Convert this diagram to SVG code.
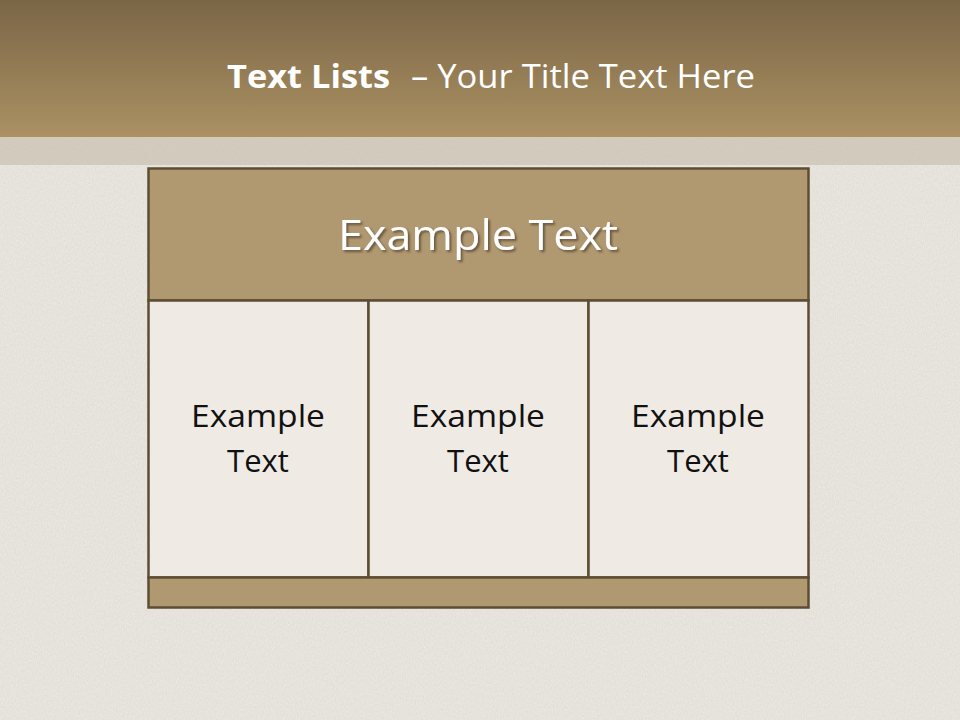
<svg xmlns="http://www.w3.org/2000/svg" width="960" height="720" viewBox="0 0 960 720">
<style>
.cell{fill:#efebe4;stroke:#5e4d33;stroke-width:2.5}
.tan{fill:#b09870;stroke:#5e4d33;stroke-width:2.5}
.ct{font-family:"Open Sans","Noto Sans",sans-serif;font-size:31px;fill:#111;text-anchor:middle}
.tt{font-family:"Open Sans","Noto Sans",sans-serif;font-size:33px;fill:#fff}
</style>
<defs>
<linearGradient id="hdr" x1="0" y1="0" x2="0" y2="1">
<stop offset="0" stop-color="#7a6546"/>
<stop offset="1" stop-color="#ab9163"/>
</linearGradient>
<filter id="noise" x="0" y="0" width="100%" height="100%">
<feTurbulence type="fractalNoise" baseFrequency="0.9 0.45" numOctaves="2" seed="3"/>
<feColorMatrix type="matrix" values="0 0 0 0 0.45 0 0 0 0 0.42 0 0 0 0 0.38 0 0 0 0.6 -0.1"/>
</filter>
<filter id="sh" x="-10%" y="-30%" width="120%" height="160%">
<feDropShadow dx="2" dy="2" stdDeviation="1.2" flood-color="#3a2e1c" flood-opacity="0.6"/>
</filter>
</defs>
<rect x="0" y="0" width="960" height="720" fill="#ebe8e2"/>
<rect x="0" y="0" width="960" height="720" filter="url(#noise)" opacity="0.45"/>
<rect x="0" y="137" width="960" height="28" fill="#c4baa9" opacity="0.6"/>
<rect x="0" y="0" width="960" height="137" fill="url(#hdr)"/>
<text class="tt" x="227" y="88" font-weight="bold" textLength="163" lengthAdjust="spacingAndGlyphs">Text Lists</text>
<text class="tt" x="411" y="88" textLength="344" lengthAdjust="spacingAndGlyphs">– Your Title Text Here</text>
<g id="header">
<rect class="tan" x="148.5" y="168.5" width="660" height="132"/>
<text x="478" y="250" font-family="Open Sans,Noto Sans,sans-serif" font-size="42" fill="#fff" text-anchor="middle" textLength="280" lengthAdjust="spacingAndGlyphs" filter="url(#sh)">Example Text</text>
</g>
<g id="cell1">
<rect class="cell" x="148.5" y="300.5" width="220" height="277"/>
<text class="ct" x="258" y="427" textLength="134" lengthAdjust="spacingAndGlyphs">Example</text>
<text class="ct" x="258" y="472">Text</text>
</g>
<g id="cell2">
<rect class="cell" x="368.5" y="300.5" width="220" height="277"/>
<text class="ct" x="478" y="427" textLength="134" lengthAdjust="spacingAndGlyphs">Example</text>
<text class="ct" x="478" y="472">Text</text>
</g>
<g id="cell3">
<rect class="cell" x="588.5" y="300.5" width="220" height="277"/>
<text class="ct" x="698" y="427" textLength="134" lengthAdjust="spacingAndGlyphs">Example</text>
<text class="ct" x="698" y="472">Text</text>
</g>
<g id="footer">
<rect class="tan" x="148.5" y="577.5" width="660" height="30"/>
</g>
<g id="connectors"/>
</svg>
